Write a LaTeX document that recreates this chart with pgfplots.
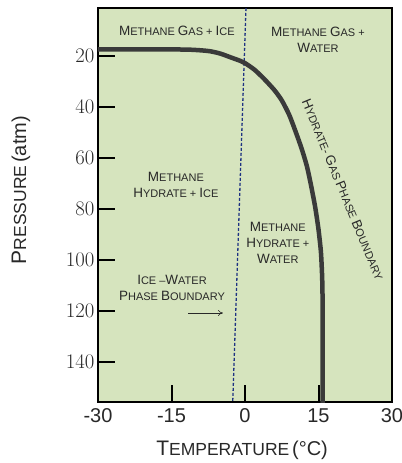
\documentclass[border=0pt]{standalone}
\usepackage{fontspec}
\setmainfont{Liberation Sans}
\usepackage{pgfplots}
\pgfplotsset{compat=1.18}
\usetikzlibrary{arrows.meta}

\definecolor{bg}{RGB}{214,228,190}
\definecolor{curve}{RGB}{58,58,58}
\definecolor{ice}{RGB}{30,50,130}
\definecolor{txt}{RGB}{40,40,40}

% fake small caps: big first letter, smaller rest
\newcommand{\sca}[2]{{\fontsize{13.5}{16}\selectfont #1}#2}
\newcommand{\scb}[2]{{\fontsize{21}{24}\selectfont #1}{\fontsize{17.5}{24}\selectfont #2}}
\tikzset{lab/.style={font=\fontsize{11}{16}\selectfont, text=txt, align=center, inner sep=0pt}}

\begin{document}
\begin{tikzpicture}
\begin{axis}[
    name=ax,
    scale only axis,
    width=294pt, height=394pt,
    xmin=-30, xmax=30,
    ymin=1.2, ymax=155.7,
    y dir=reverse,
    axis background/.style={fill=bg},
    axis line style={line width=1.6pt, black},
    xtick={-30,-15,0,15,30},
    xticklabels={-30,-15,0,15,30},
    ytick={20,40,...,140},
    xtick pos=lower, ytick pos=left,
    tick style={draw=none},
    ticklabel style={font=\fontsize{20}{20}\selectfont, text=txt},
    xticklabel style={yshift=-3pt},
    xlabel={\scb{T}{EMPERATURE} {\fontsize{20}{24}\selectfont (°C)}},
    ylabel={\scb{P}{RESSURE} {\fontsize{20}{24}\selectfont (atm)}},
    xlabel style={at={(axis description cs:0.49,-0.122)}, anchor=center, text=txt},
    ylabel style={at={(axis description cs:-0.262,0.538)}, anchor=center, text=txt},
]

% ice-water phase boundary
\addplot[ice, line width=1.3pt, dash pattern=on 3pt off 2pt] coordinates {
    (0.2,1.2) (-2.5,155.7)
};

% hydrate-gas phase boundary
\addplot[curve, line width=4.5pt, smooth, tension=0.4] coordinates {
    (-31,17.4)
    (-20,17.4)
    (-12,17.5)
    (-9,17.8)
    (-7,18.2)
    (-5,19.1)
    (-3,20.5)
    (-1,21.9)
    (0,22.8)
    (2,25.5)
    (4,29.2)
    (6,33.4)
    (7.5,37.4)
    (9,43)
    (10.2,49)
    (11.5,56)
    (12.6,63)
    (13.4,70)
    (14.3,79)
    (15.0,88)
    (15.5,97)
    (15.75,107)
    (15.85,118)
    (15.85,130)
    (15.85,160)
};

% arrow pointing at the ice-water boundary
\addplot[txt, line width=0.6pt, -{To[length=5pt,width=6pt]}] coordinates {
    (-11.6,120.8) (-4.5,120.8)
};

\node[lab] at (axis cs:-13.9,10.2) {\sca{M}{ETHANE} \sca{G}{AS} + \sca{I}{CE}};
\node[lab] at (axis cs:14.9,13.7) {\sca{M}{ETHANE} \sca{G}{AS} +\\\sca{W}{ATER}};
\node[lab] at (axis cs:-14.1,70.4) {\sca{M}{ETHANE}\\\sca{H}{YDRATE} + \sca{I}{CE}};
\node[lab] at (axis cs:6.7,93.3) {\sca{M}{ETHANE}\\\sca{H}{YDRATE} +\\\sca{W}{ATER}};
\node[lab] at (axis cs:-14.9,111) {\sca{I}{CE} –\sca{W}{ATER}\\\sca{P}{HASE} \sca{B}{OUNDARY}};
\node[lab, rotate=-67.5] at (axis cs:20.0,72.5) {\sca{H}{YDRATE}- \sca{G}{AS} \sca{P}{HASE} \sca{B}{OUNDARY}};
\end{axis}

% inward tick marks, placed from the axis corner (2.55pt per atm, 4.9pt per degree)
\draw[line width=2pt, black] ([yshift=346.1pt]ax.south west) -- ++(17pt,0pt);
\draw[line width=2pt, black] ([yshift=295.1pt]ax.south west) -- ++(17pt,0pt);
\draw[line width=2pt, black] ([yshift=244.1pt]ax.south west) -- ++(17pt,0pt);
\draw[line width=2pt, black] ([yshift=193.1pt]ax.south west) -- ++(17pt,0pt);
\draw[line width=2pt, black] ([yshift=142.1pt]ax.south west) -- ++(17pt,0pt);
\draw[line width=2pt, black] ([yshift=91.0pt]ax.south west) -- ++(17pt,0pt);
\draw[line width=2pt, black] ([yshift=40.0pt]ax.south west) -- ++(17pt,0pt);
\draw[line width=2pt, black] ([xshift=73.5pt]ax.south west) -- ++(0pt,17pt);
\draw[line width=2pt, black] ([xshift=147pt]ax.south west) -- ++(0pt,17pt);
\draw[line width=2pt, black] ([xshift=220.5pt]ax.south west) -- ++(0pt,17pt);

\pgfresetboundingbox
\path[use as bounding box] ([xshift=-98pt,yshift=-61pt]ax.south west) rectangle ([xshift=10pt,yshift=8pt]ax.north east);
\end{tikzpicture}
\end{document}
